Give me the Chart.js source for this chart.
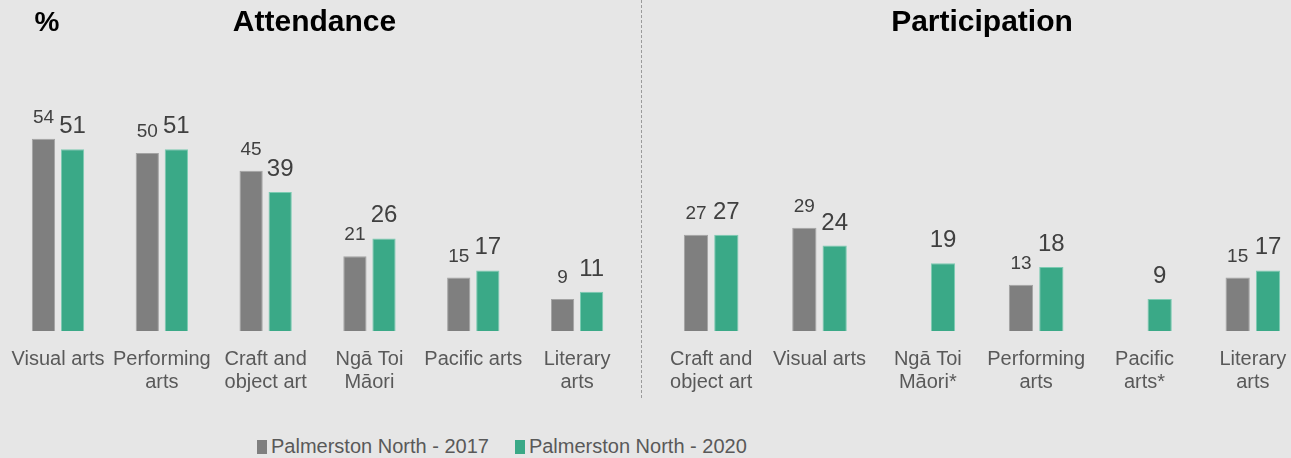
<!DOCTYPE html>
<html>
<head>
<meta charset="utf-8">
<script src="https://cdn.jsdelivr.net/npm/chart.js@4.4.1/dist/chart.umd.min.js"></script>
<style>
  html, body { margin: 0; padding: 0; }
  body { width: 1291px; height: 458px; overflow: hidden; background: #e6e6e6; position: relative;
         font-family: "Liberation Sans", Arial, sans-serif; }
  .panel { position: absolute; top: 0; height: 420px; }
  #left { left: -6px; width: 641px; }
  #right { left: 651px; width: 662px; }
  #sep { position: absolute; left: 641px; top: 0; height: 398px; border-left: 1px dashed #9a9a9a; }
  #legend { position: absolute; top: 435px; left: 257px; display: flex; align-items: center;
            font-size: 20px; color: #595959; }
  #legend span.item { display: flex; align-items: center; margin-right: 26px; }
  #legend span.box { display: inline-block; width: 10px; height: 14px; margin-right: 4px; }
</style>
</head>
<body>
<div id="left" class="panel"><canvas id="att"></canvas></div>
<div id="sep"></div>
<div id="right" class="panel"><canvas id="part"></canvas></div>
<div id="legend"></div>
<script>
const seriesNames = ["Palmerston North - 2017", "Palmerston North - 2020"];
const seriesColors = ["#7f7f7f", "#3aa987"];

const attCategories = ["Visual arts", ["Performing", "arts"], ["Craft and", "object art"], ["Ngā Toi", "Māori"], "Pacific arts", ["Literary", "arts"]];
const att2017 = [54, 50, 45, 21, 15, 9];
const att2020 = [51, 51, 39, 26, 17, 11];

const partCategories = [["Craft and", "object art"], "Visual arts", ["Ngā Toi", "Māori*"], ["Performing", "arts"], ["Pacific", "arts*"], ["Literary", "arts"]];
const part2017 = [27, 29, null, 13, null, 15];
const part2020 = [27, 24, 19, 18, 9, 17];

const FONT = "'Liberation Sans', Arial, sans-serif";
const labelSizes = [19, 24];

// value labels above each bar
const valueLabels = {
  id: "valueLabels",
  afterDatasetsDraw(chart) {
    const ctx = chart.ctx;
    ctx.save();
    ctx.fillStyle = "#404040";
    ctx.textAlign = "center";
    ctx.textBaseline = "alphabetic";
    chart.data.datasets.forEach((ds, i) => {
      ctx.font = labelSizes[i] + "px " + FONT;
      chart.getDatasetMeta(i).data.forEach((bar, j) => {
        const v = ds.data[j];
        if (v === null || v === undefined) return;
        ctx.fillText(String(v), bar.x, bar.y - 16);
      });
    });
    ctx.restore();
  }
};

// the "%" marker in the top-left corner
const percentMark = {
  id: "percentMark",
  afterDraw(chart, args, opts) {
    if (!opts.show) return;
    const ctx = chart.ctx;
    ctx.save();
    ctx.font = "bold 28px " + FONT;
    ctx.fillStyle = "#000";
    ctx.textAlign = "center";
    ctx.textBaseline = "middle";
    ctx.fillText("%", 53, 23);
    ctx.restore();
  }
};

function makeChart(id, title, cats, d17, d20, showPct) {
  return new Chart(document.getElementById(id), {
    type: "bar",
    data: {
      labels: cats,
      datasets: [
        { label: seriesNames[0], data: d17, backgroundColor: seriesColors[0], borderColor: "#a3a3a3", borderWidth: 1 },
        { label: seriesNames[1], data: d20, backgroundColor: seriesColors[1], borderColor: "#7ccbb2", borderWidth: 1 },
      ],
    },
    options: {
      responsive: true,
      maintainAspectRatio: false,
      animation: false,
      datasets: { bar: { categoryPercentage: 0.56, barPercentage: 0.8 } },
      layout: { padding: { left: 6, right: 6, top: 0, bottom: 9 } },
      plugins: {
        legend: { display: false },
        tooltip: { enabled: false },
        title: {
          display: true,
          text: title,
          color: "#000",
          font: { family: FONT, size: 30, weight: "bold" },
          padding: { top: 5, bottom: 5 },
        },
        percentMark: { show: showPct },
      },
      scales: {
        x: {
          grid: { display: false, drawTicks: false },
          border: { display: false },
          ticks: {
            autoSkip: false,
            maxRotation: 0,
            padding: 17,
            color: "#595959",
            font: { family: FONT, size: 20, lineHeight: 1.15 },
          },
        },
        y: { display: false, min: 0, max: 80 },
      },
    },
    plugins: [valueLabels, percentMark],
  });
}

makeChart("att", "Attendance", attCategories, att2017, att2020, true);
makeChart("part", "Participation", partCategories, part2017, part2020, false);

// legend
const legend = document.getElementById("legend");
seriesNames.forEach((name, i) => {
  const item = document.createElement("span");
  item.className = "item";
  const box = document.createElement("span");
  box.className = "box";
  box.style.background = seriesColors[i];
  item.appendChild(box);
  item.appendChild(document.createTextNode(name));
  legend.appendChild(item);
});
</script>
</body>
</html>
